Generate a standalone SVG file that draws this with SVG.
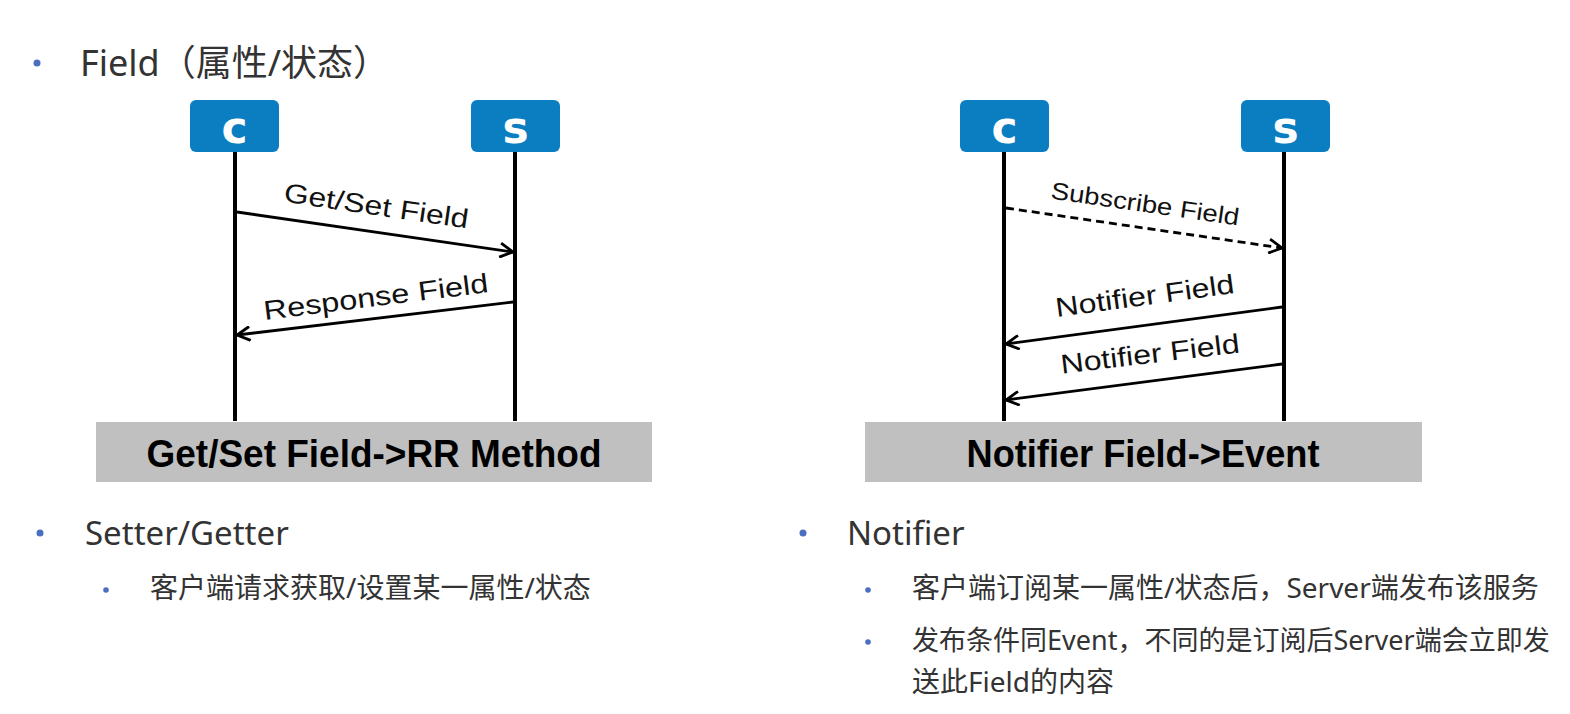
<svg xmlns="http://www.w3.org/2000/svg" width="1570" height="714" viewBox="0 0 1570 714">
<style>
.bg{fill:#ffffff}
.node rect.hd{fill:#0B7DC1}
.node text.hd{font-family:"DejaVu Sans",sans-serif;font-weight:bold;font-size:44px;fill:#ffffff;text-anchor:middle}
.life{stroke:#000;stroke-width:4;fill:none}
.msg{stroke:#000;stroke-width:2.8;fill:none}
.dash{stroke-dasharray:8 5}
.lbl{font-family:"Liberation Sans",Arial,sans-serif;fill:#111;text-anchor:middle}
.bar{fill:#C0C0C0}
.bartxt{font-family:"Liberation Sans",Arial,sans-serif;font-weight:bold;font-size:38px;fill:#000;text-anchor:middle}
.t1{font-family:"Noto Sans","Noto Sans CJK SC",sans-serif;font-size:33px;fill:#333}
.t0{font-family:"Noto Sans","Noto Sans CJK SC",sans-serif;font-size:36px;fill:#333}
.t2{font-family:"Noto Sans","Noto Sans CJK SC",sans-serif;font-size:28px;fill:#333}
.t2s{font-family:"Noto Sans","Noto Sans CJK SC",sans-serif;font-size:27px;fill:#333}
.dot{fill:#4A6FC0}
</style>
<defs>
<marker id="arr" viewBox="0 0 16 16" refX="15" refY="8" markerWidth="16" markerHeight="16" markerUnits="userSpaceOnUse" orient="auto">
<path d="M2 1 L15 8 L2 15" fill="none" stroke="#000" stroke-width="2.8"/>
</marker>
</defs>
<rect class="bg" x="0" y="0" width="1570" height="714"/>

<g id="title">
<circle class="dot" cx="37" cy="63" r="3.5"/>
<text class="t0" x="80" y="76">Field（属性/状态）</text>
</g>

<g id="left-client" class="node">
<rect class="hd" x="190" y="100" width="89" height="52" rx="6"/>
<text class="hd" x="234.5" y="143">c</text>
</g>
<g id="left-server" class="node">
<rect class="hd" x="471" y="100" width="89" height="52" rx="6"/>
<text class="hd" x="515.5" y="143">s</text>
</g>
<g id="right-client" class="node">
<rect class="hd" x="960" y="100" width="89" height="52" rx="6"/>
<text class="hd" x="1004.5" y="143">c</text>
</g>
<g id="right-server" class="node">
<rect class="hd" x="1241" y="100" width="89" height="52" rx="6"/>
<text class="hd" x="1285.5" y="143">s</text>
</g>

<g id="connectors">
<line class="life" x1="235" y1="152" x2="235" y2="421"/>
<line class="life" x1="515" y1="152" x2="515" y2="421"/>
<line class="life" x1="1004" y1="152" x2="1004" y2="421"/>
<line class="life" x1="1284" y1="152" x2="1284" y2="421"/>
<line class="msg" x1="237" y1="212" x2="513" y2="252" marker-end="url(#arr)"/>
<line class="msg" x1="513" y1="302" x2="237" y2="335" marker-end="url(#arr)"/>
<line class="msg dash" x1="1006" y1="208" x2="1282" y2="248" marker-end="url(#arr)"/>
<line class="msg" x1="1282" y1="307" x2="1006" y2="344" marker-end="url(#arr)"/>
<line class="msg" x1="1282" y1="364" x2="1006" y2="400" marker-end="url(#arr)"/>
</g>

<g id="labels">
<text class="lbl" font-size="27" x="375" y="215" textLength="186" lengthAdjust="spacingAndGlyphs" transform="rotate(8.3 375 215)">Get/Set Field</text>
<text class="lbl" font-size="27" x="377" y="306" textLength="226" lengthAdjust="spacingAndGlyphs" transform="rotate(-7.1 377 306)">Response Field</text>
<text class="lbl" font-size="24" x="1144" y="212" textLength="190" lengthAdjust="spacingAndGlyphs" transform="rotate(8.2 1144 212)">Subscribe Field</text>
<text class="lbl" font-size="27" x="1146" y="305" textLength="180" lengthAdjust="spacingAndGlyphs" transform="rotate(-7.7 1146 305)">Notifier Field</text>
<text class="lbl" font-size="27" x="1151" y="363" textLength="180" lengthAdjust="spacingAndGlyphs" transform="rotate(-6.8 1151 363)">Notifier Field</text>
</g>

<g id="bar-left">
<rect class="bar" x="96" y="422" width="556" height="60"/>
<text class="bartxt" x="374" y="467" textLength="455" lengthAdjust="spacingAndGlyphs">Get/Set Field-&gt;RR Method</text>
</g>
<g id="bar-right">
<rect class="bar" x="865" y="422" width="557" height="60"/>
<text class="bartxt" x="1143" y="467" textLength="353" lengthAdjust="spacingAndGlyphs">Notifier Field-&gt;Event</text>
</g>

<g id="left-notes">
<circle class="dot" cx="40" cy="533" r="3.5"/>
<text class="t1" x="85" y="545">Setter/Getter</text>
<circle class="dot" cx="106" cy="590" r="2.8"/>
<text class="t2" x="150" y="598">客户端请求获取/设置某一属性/状态</text>
</g>

<g id="right-notes">
<circle class="dot" cx="803" cy="533" r="3.5"/>
<text class="t1" x="847" y="545">Notifier</text>
<circle class="dot" cx="868" cy="590" r="2.8"/>
<text class="t2" x="912" y="598">客户端订阅某一属性/状态后，Server端发布该服务</text>
<circle class="dot" cx="868" cy="642" r="2.8"/>
<text class="t2s" x="912" y="650">发布条件同Event，不同的是订阅后Server端会立即发</text>
<text class="t2" x="912" y="692">送此Field的内容</text>
</g>
</svg>
